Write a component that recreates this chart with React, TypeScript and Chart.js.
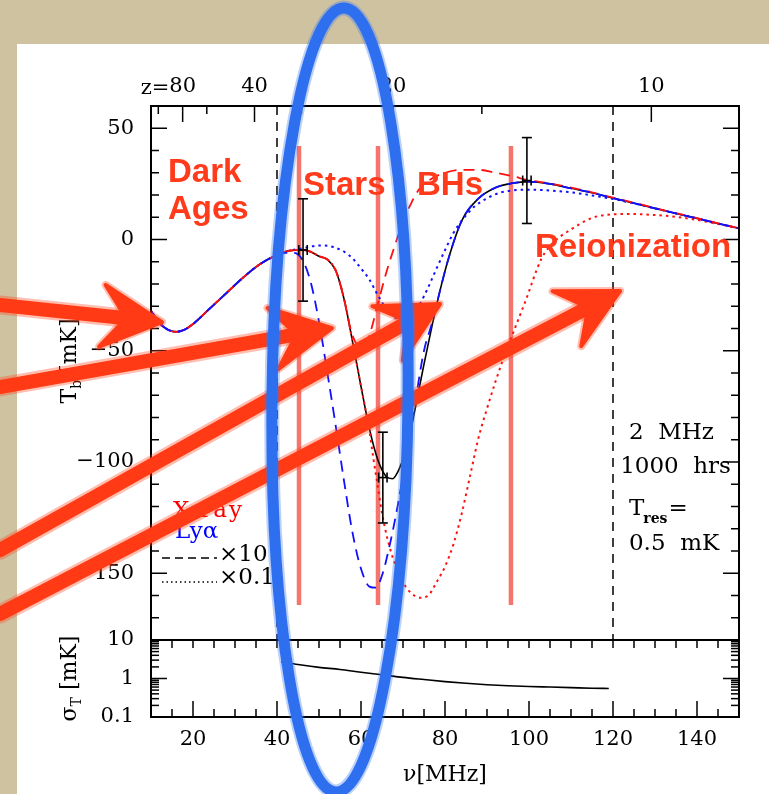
import React, { useEffect, useRef } from 'react';
import { Chart, registerables } from 'chart.js';
Chart.register(...registerables);

// ---------- data ----------
// fiducial model (black solid)
const nuFid = [10, 12, 14, 16, 18, 20, 24, 28, 32, 36, 40, 43, 46, 48, 50, 52, 54, 56, 58, 60, 62, 64, 66, 67.5, 69, 71, 73, 75, 77, 79, 81, 84, 88, 92, 96, 100, 105, 110, 115, 120, 125, 130, 135, 140, 145, 150];
const tFid = [-32, -37.5, -40.5, -41.5, -40.5, -38, -31, -24, -17, -11, -7, -5, -4.7, -5.5, -7.5, -9, -14, -27, -46, -66, -85, -99, -106.5, -107.5, -103.5, -93, -75, -56, -38, -21.5, -7.5, 8.5, 18.5, 23.3, 25.3, 26, 25, 23, 21, 18.6, 16.3, 14, 11.7, 9.5, 7.2, 5];
// X-ray x10 (red dashed)
const nuXr10 = [10, 12, 14, 16, 18, 20, 24, 28, 32, 36, 40, 43, 46, 48, 50, 52, 54, 56, 57.5, 59, 60.5, 62, 64, 66, 68, 70, 72, 74, 77, 80, 84, 88, 92, 96, 100, 105, 110, 115, 120, 125, 130, 135, 140, 145, 150];
const tXr10 = [-32, -37.5, -40.5, -41.5, -40.5, -38, -31, -24, -17, -11, -7, -5, -4.7, -5.5, -7.5, -9, -14, -27, -40, -47, -48, -43, -29, -15, -3, 8, 16.5, 23, 27.5, 30, 31.3, 31.3, 30, 28.5, 26.6, 25.2, 23.3, 21.2, 18.8, 16.5, 14.1, 11.8, 9.6, 7.3, 5];
// X-ray x0.1 (red dotted)
const nuXr01 = [10, 12, 14, 16, 18, 20, 24, 28, 32, 36, 40, 43, 46, 48, 50, 52, 54, 56, 58, 60, 62, 63, 64, 65, 67, 70, 72, 74, 76, 78, 80, 82, 84, 86, 88, 90, 92, 94, 96, 99, 103, 106, 110, 115, 120, 124, 130, 135, 140, 145, 150];
const tXr01 = [-32, -37.5, -40.5, -41.5, -40.5, -38, -31, -24, -17, -11, -7, -5, -4.7, -5.5, -7.5, -9, -14, -27, -46, -66, -86, -99, -111, -123, -139.5, -154, -159, -161, -160, -154, -147, -137, -123, -106, -89, -76, -64, -53, -43, -28.5, -8.5, -1, 4.5, 9.7, 11.3, 11.5, 11, 10.2, 8.8, 7, 5];
// Ly-alpha x10 (blue dashed)
const nuLy10 = [10, 12, 14, 16, 18, 20, 24, 28, 32, 36, 40, 42, 44, 46, 48, 50, 52, 54, 56, 58, 60, 62, 63.5, 65, 67, 69, 71, 73, 75, 77, 79, 81, 84, 88, 92, 96, 100, 105, 110, 115, 120, 125, 130, 135, 140, 145, 150];
const tLy10 = [-32, -37.5, -40.5, -41.5, -40.5, -38, -31, -24, -17, -11, -7, -6, -6, -9, -19, -37, -60, -84, -109, -132, -148, -156, -156.5, -151, -136, -117, -95, -72, -50, -37, -21.5, -7.5, 8.5, 18.5, 23.3, 25.3, 26, 25, 23, 21, 18.6, 16.3, 14, 11.7, 9.5, 7.2, 5];
// Ly-alpha x0.1 (blue dotted)
const nuLy01 = [10, 12, 14, 16, 18, 20, 24, 28, 32, 36, 40, 43, 46, 48, 50, 52, 54, 56, 58, 60, 62, 64, 66, 68, 70, 72, 74, 76, 78, 80, 82, 84, 87, 90, 93, 96, 100, 105, 110, 115, 120, 125, 130, 135, 140, 145, 150];
const tLy01 = [-32, -37.5, -40.5, -41.5, -40.5, -38, -31, -24, -17, -11, -7, -5, -4, -3.2, -2.7, -2.8, -3.8, -5.5, -8.5, -13, -18, -25, -31, -35, -36, -34, -29, -21.5, -13, -4.8, 2.9, 8.5, 14.8, 18.5, 21, 22, 22.4, 22, 21.2, 19.8, 18.2, 16.2, 14, 11.7, 9.5, 7.2, 5];
// noise (bottom panel)
const nuSigma = [41, 45, 50, 55, 60, 65, 70, 75, 80, 85, 90, 95, 100, 105, 110, 115, 119];
const sigmaT = [2.7, 2.3, 1.95, 1.72, 1.45, 1.25, 1.07, 0.94, 0.83, 0.75, 0.69, 0.65, 0.62, 0.6, 0.58, 0.56, 0.55];
// error bars
const errNu = [46.2, 65.2, 99.5];
const errT = [-4.7, -107, 26.5];
const errSig = [23, 20.4, 19.3];
const bandwidth = 2; // MHz
// epoch separators (salmon) and dashed limits
const sepNu = [45.24, 64.05, 95.7];
const sepTop = 42;
const sepBottom = -164.3;
const dashNu = [40, 120];
// axis ticks
const xTicks = [20, 40, 60, 80, 100, 120, 140];
const yTicks = [-150, -100, -50, 0, 50];
const sigTicks = [0.1, 1, 10];
const zMajor = [80, 40, 20, 10];
const zMinor = [120, 60, 30, 15];
const NU21 = 1420.4;

// annotations in data coordinates (nu [MHz], T [mK])
const arrows = [
  [-25.95, -29.4, 12.62, -37.1],
  [-25.95, -66.3, 53.1, -39.8],
  [-25.95, -139.6, 78.8, -29.0],
  [-25.95, -168.3, 121.7, -23.1],
];
const ellipse = { nu: 55.0, t: -72.1, dnu: 16.2, dt: 176.2 };
const epochLabels: [string, number, number][] = [
  ['Dark', 14.05, 25.8],
  ['Ages', 14.05, 9.2],
  ['Stars', 46.19, 20.0],
  ['BHs', 73.33, 20.0],
  ['Reionization', 101.43, -7.87],
];

const SERIF = '"DejaVu Serif", serif';
const SANS = '"Liberation Sans", Arial, sans-serif';

const mk = (nu: number[], t: number[], color: string, dash: number[], width: number, order: number, dashOffset = 0) => ({
  data: nu.map((v, i) => ({ x: v, y: t[i] })),
  borderColor: color,
  borderDash: dash,
  borderDashOffset: dashOffset,
  borderWidth: width,
  pointRadius: 0,
  fill: false,
  cubicInterpolationMode: 'monotone' as const,
  order,
  yAxisID: 'y',
  xAxisID: 'x',
});

const line = (ctx: CanvasRenderingContext2D, x0: number, y0: number, x1: number, y1: number) => {
  ctx.beginPath();
  ctx.moveTo(x0, y0);
  ctx.lineTo(x1, y1);
  ctx.stroke();
};

const txt = (ctx: CanvasRenderingContext2D, s: string, px: number, py: number, font: string, color: string, align: CanvasTextAlign = 'left') => {
  ctx.font = font;
  ctx.fillStyle = color;
  ctx.textAlign = align;
  ctx.textBaseline = 'alphabetic';
  ctx.fillText(s, px, py);
  return ctx.measureText(s).width;
};

const plugin = {
  id: 'decor',
  beforeDraw(chart: any) {
    const { ctx, width, height } = chart;
    ctx.save();
    ctx.fillStyle = '#cfc2a0';
    ctx.fillRect(0, 0, width, height);
    ctx.fillStyle = '#ffffff';
    ctx.fillRect(17, 44, width - 17, height - 44);
    ctx.restore();
  },
  beforeDatasetsDraw(chart: any) {
    const { ctx, scales } = chart;
    const x = scales.x, y = scales.y;
    ctx.save();
    ctx.strokeStyle = '#000';
    ctx.lineWidth = 1.5;
    ctx.setLineDash([9, 7]);
    dashNu.forEach((v) => {
      const px = x.getPixelForValue(v);
      line(ctx, px, y.top, px, y.bottom);
    });
    ctx.setLineDash([]);
    ctx.strokeStyle = '#f4756c';
    ctx.lineWidth = 4.5;
    sepNu.forEach((v) => {
      const px = x.getPixelForValue(v);
      line(ctx, px, y.getPixelForValue(sepTop), px, y.getPixelForValue(sepBottom));
    });
    ctx.restore();
  },
  afterDatasetsDraw(chart: any) {
    const { ctx, chartArea: ca, scales } = chart;
    const x = scales.x, y = scales.y, y2 = scales.y2;
    const X = (v: number) => x.getPixelForValue(v);
    const Y = (v: number) => y.getPixelForValue(v);
    ctx.save();
    ctx.setLineDash([]);
    ctx.strokeStyle = '#000';
    ctx.lineCap = 'butt';
    // ticks
    ctx.lineWidth = 1.5;
    for (let v = -180; v <= 60; v += 10) {
      const py = Y(v);
      const len = v % 50 === 0 ? 16 : 8;
      line(ctx, ca.left, py, ca.left + len, py);
      line(ctx, ca.right, py, ca.right - len, py);
    }
    zMajor.forEach((z) => {
      const px = X(NU21 / (1 + z));
      line(ctx, px, y.top, px, y.top + 16);
    });
    zMinor.forEach((z) => {
      const px = X(NU21 / (1 + z));
      line(ctx, px, y.top, px, y.top + 8);
    });
    for (let v = 15; v < 150; v += 5) {
      const px = X(v);
      line(ctx, px, y2.top, px, y2.top + 8);
      line(ctx, px, y2.bottom, px, y2.bottom - (v % 20 === 0 ? 16 : 8));
    }
    [0.1, 1].forEach((d) => {
      for (let m = 1; m <= 9; m++) {
        const v = d * m;
        if (m === 1 && d === 0.1) continue;
        const py = y2.getPixelForValue(v);
        const len = m === 1 ? 16 : 8;
        line(ctx, ca.left, py, ca.left + len, py);
        line(ctx, ca.right, py, ca.right - len, py);
      }
    });
    // frames
    ctx.lineWidth = 2;
    ctx.strokeRect(ca.left, y.top, ca.right - ca.left, y.bottom - y.top);
    ctx.strokeRect(ca.left, y2.top, ca.right - ca.left, y2.bottom - y2.top);
    // error bars
    ctx.lineWidth = 1.6;
    errNu.forEach((nu, i) => {
      const px = X(nu);
      const top = Y(errT[i] + errSig[i]);
      const bot = Y(errT[i] - errSig[i]);
      const pc = Y(errT[i]);
      line(ctx, px, top, px, bot);
      line(ctx, px - 5, top, px + 5, top);
      line(ctx, px - 5, bot, px + 5, bot);
      const xl = X(nu - bandwidth / 2), xr = X(nu + bandwidth / 2);
      line(ctx, xl, pc, xr, pc);
      line(ctx, xl, pc - 5, xl, pc + 5);
      line(ctx, xr, pc - 5, xr, pc + 5);
    });
    // legend
    const f23 = `23px ${SERIF}`;
    (ctx as any).letterSpacing = '2px';
    txt(ctx, 'X-ray', X(15.24), Y(-124.7), f23, '#ff0000');
    (ctx as any).letterSpacing = '0px';
    txt(ctx, 'Ly\u03b1', X(15.71), Y(-134.2), f23, '#0000ff');
    ctx.strokeStyle = '#000';
    ctx.lineWidth = 1.5;
    ctx.setLineDash([8, 5]);
    line(ctx, X(12.62), Y(-143.1), X(25.71), Y(-143.1));
    ctx.setLineDash([1.5, 3]);
    line(ctx, X(12.62), Y(-153.9), X(25.71), Y(-153.9));
    ctx.setLineDash([]);
    txt(ctx, '\u00d710', X(26.19), Y(-144.5), f23, '#000');
    txt(ctx, '\u00d70.1', X(26.19), Y(-154.8), f23, '#000');
    // right text block
    txt(ctx, '2  MHz', X(123.8), Y(-89.7), f23, '#000');
    txt(ctx, '1000  hrs', X(121.7), Y(-104.9), f23, '#000');
    const wT = txt(ctx, 'T', X(123.8), Y(-123.8), f23, '#000');
    const wr = txt(ctx, 'res', X(123.8) + wT - 1, Y(-123.8) + 8, `bold 14px ${SERIF}`, '#000');
    txt(ctx, '=', X(123.8) + wT + wr, Y(-123.8), f23, '#000');
    txt(ctx, '0.5  mK', X(123.8), Y(-139.6), f23, '#000');
    // "z=" before top labels
    const f21 = `21px ${SERIF}`;
    ctx.font = f21;
    const w80 = ctx.measureText(String(zMajor[0])).width;
    txt(ctx, 'z=', X(NU21 / (1 + zMajor[0])) - w80 / 2, 94, f21, '#000', 'right');
    // y-axis titles
    const title = (main: string, sub: string, rest: string, cx: number, cy: number) => {
      ctx.save();
      ctx.translate(cx, cy);
      ctx.rotate(-Math.PI / 2);
      ctx.font = `22px ${SERIF}`;
      const w1 = ctx.measureText(main).width;
      ctx.font = `14px ${SERIF}`;
      const w2 = ctx.measureText(sub).width;
      ctx.font = `22px ${SERIF}`;
      const w3 = ctx.measureText(rest).width;
      let sx = -(w1 + w2 + w3) / 2;
      txt(ctx, main, sx, 8, `22px ${SERIF}`, '#000');
      sx += w1;
      txt(ctx, sub, sx, 13, `14px ${SERIF}`, '#000');
      sx += w2;
      txt(ctx, rest, sx, 8, `22px ${SERIF}`, '#000');
      ctx.restore();
    };
    title('T', 'b', ' [mK]', ca.left - 83, (y.top + y.bottom) / 2 - 12);
    title('\u03c3', 'T', ' [mK]', ca.left - 83, (y2.top + y2.bottom) / 2);
    // epoch labels
    epochLabels.forEach(([s, nu, t]) => txt(ctx, s, X(nu), Y(t), `bold 33px ${SANS}`, '#ff3b1c'));
    // arrows
    ctx.lineCap = 'round';
    ctx.lineJoin = 'round';
    const drawArrows = (color: string, shaftW: number, edgeW: number) => {
      ctx.strokeStyle = color;
      ctx.fillStyle = color;
      arrows.forEach(([n0, t0, n1, t1]) => {
        const x0 = X(n0), y0 = Y(t0), x1 = X(n1), y1 = Y(t1);
        const len = Math.hypot(x1 - x0, y1 - y0);
        const ux = (x1 - x0) / len, uy = (y1 - y0) / len;
        const pxp = -uy, pyp = ux;
        const L = 60, W = 31;
        ctx.lineWidth = shaftW;
        line(ctx, x0, y0, x1 - ux * L * 0.6, y1 - uy * L * 0.6);
        ctx.lineWidth = edgeW;
        ctx.beginPath();
        ctx.moveTo(x1, y1);
        ctx.lineTo(x1 - ux * L + pxp * W, y1 - uy * L + pyp * W);
        ctx.lineTo(x1 - ux * L * 0.6, y1 - uy * L * 0.6);
        ctx.lineTo(x1 - ux * L - pxp * W, y1 - uy * L - pyp * W);
        ctx.closePath();
        ctx.fill();
        ctx.stroke();
      });
    };
    drawArrows('rgba(255,70,30,0.35)', 19, 8);
    drawArrows('#ff3a14', 14, 4);
    // ellipse
    const ex = X(ellipse.nu), ey = Y(ellipse.t);
    const erx = X(ellipse.nu + ellipse.dnu) - ex;
    const ery = Y(ellipse.t - ellipse.dt) - ey;
    ctx.beginPath();
    ctx.ellipse(ex, ey, erx, ery, 0.01, 0, Math.PI * 2);
    ctx.strokeStyle = 'rgba(60,120,240,0.35)';
    ctx.lineWidth = 15;
    ctx.stroke();
    ctx.strokeStyle = '#2e6ff0';
    ctx.lineWidth = 11;
    ctx.stroke();
    ctx.restore();
  },
};

export default function App() {
  const ref = useRef<HTMLCanvasElement>(null);
  useEffect(() => {
    const tickFont = { family: SERIF, size: 21 };
    const chart = new Chart(ref.current as HTMLCanvasElement, {
      type: 'line',
      data: {
        datasets: [
          mk(nuFid, tFid, '#000000', [], 1.6, 5),
          mk(nuXr01, tXr01, '#ff1010', [2.5, 4], 2, 4),
          mk(nuLy01, tLy01, '#1010ff', [2.5, 4], 2, 3, 3),
          mk(nuXr10, tXr10, '#ff1010', [11, 7], 1.8, 2, 9),
          mk(nuLy10, tLy10, '#1010ff', [11, 7], 1.8, 1),
          {
            data: nuSigma.map((v, i) => ({ x: v, y: sigmaT[i] })),
            borderColor: '#000',
            borderWidth: 1.6,
            pointRadius: 0,
            fill: false,
            cubicInterpolationMode: 'monotone',
            yAxisID: 'y2',
            xAxisID: 'x',
            order: 0,
          } as any,
        ],
      },
      options: {
        responsive: false,
        animation: false,
        devicePixelRatio: 1,
        layout: { padding: { left: 0, right: 30, top: 0, bottom: 0 } },
        plugins: { legend: { display: false }, tooltip: { enabled: false } },
        scales: {
          y2: {
            type: 'logarithmic',
            position: 'left',
            min: 0.1,
            max: 10,
            stack: 'v',
            stackWeight: 77,
            afterBuildTicks: (s: any) => { s.ticks = sigTicks.map((v) => ({ value: v })); },
            ticks: { font: tickFont, color: '#000', padding: 17, autoSkip: false, callback: (v: any) => String(v) },
            grid: { display: false, drawTicks: false },
            border: { display: false },
            afterFit: (s: any) => { s.width = 151; },
          },
          y: {
            type: 'linear',
            position: 'left',
            min: -180,
            max: 60,
            stack: 'v',
            stackWeight: 534,
            afterBuildTicks: (s: any) => { s.ticks = yTicks.map((v) => ({ value: v })); },
            ticks: { font: tickFont, color: '#000', padding: 17, autoSkip: false, callback: (v: any) => (v < 0 ? '\u2212' + Math.abs(v) : String(v)) },
            grid: { display: false, drawTicks: false },
            border: { display: false },
            afterFit: (s: any) => { s.width = 151; },
          },
          x: {
            type: 'linear',
            position: 'bottom',
            min: 10,
            max: 150,
            afterBuildTicks: (s: any) => { s.ticks = xTicks.map((v) => ({ value: v })); },
            ticks: { font: tickFont, color: '#000', padding: 10, maxRotation: 0, autoSkip: false, callback: (v: any) => String(v) },
            grid: { display: false, drawTicks: false },
            border: { display: false },
            title: { display: true, text: '\u03bd[MHz]', font: { family: SERIF, size: 22 }, color: '#000', padding: { top: 0, bottom: 6 } },
            afterFit: (s: any) => { s.height = 77; },
          },
          x2: {
            type: 'linear',
            position: 'top',
            min: 10,
            max: 150,
            afterBuildTicks: (s: any) => { s.ticks = zMajor.map((z) => ({ value: NU21 / (1 + z) })); },
            ticks: { font: tickFont, color: '#000', padding: 7, maxRotation: 0, autoSkip: false, callback: (_v: any, i: number) => String(zMajor[i]) },
            grid: { display: false, drawTicks: false },
            border: { display: false },
            afterFit: (s: any) => { s.height = 106; },
          },
        },
      } as any,
      plugins: [plugin],
    });
    return () => chart.destroy();
  }, []);
  return (
    <div style={{ position: 'absolute', left: 0, top: 0, width: 769, height: 794 }}>
      <canvas ref={ref} width={769} height={794} style={{ width: 769, height: 794, display: 'block' }} />
    </div>
  );
}
